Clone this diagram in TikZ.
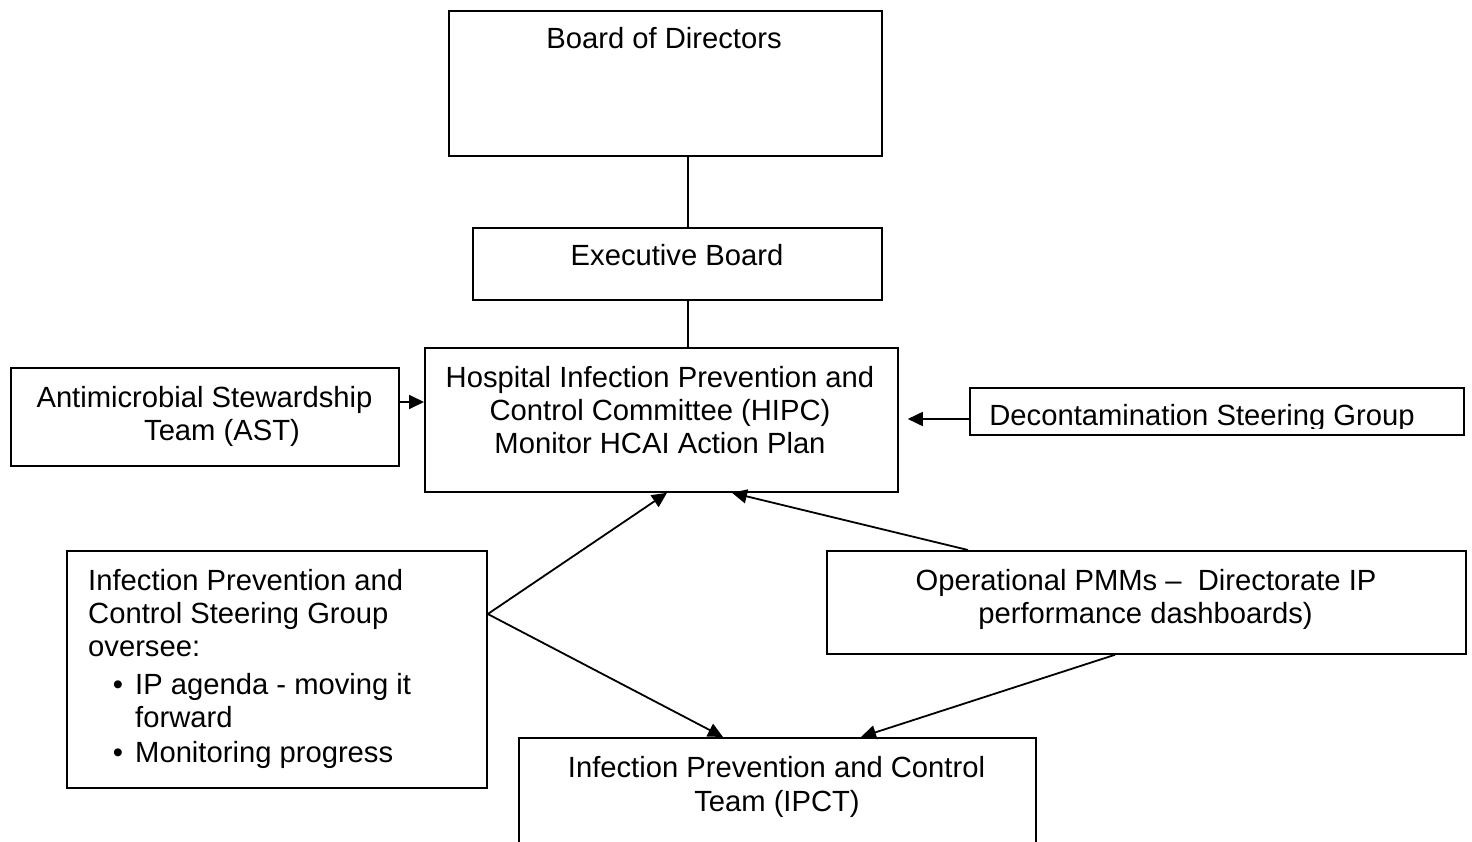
\documentclass[tikz,border=0pt]{standalone}
\usepackage{fontspec}
\setmainfont{Liberation Sans}
\usetikzlibrary{arrows.meta}
\begin{document}
\begin{tikzpicture}[x=1pt,y=-1pt,
  box/.style={draw,line width=1.8pt,inner sep=0pt,anchor=north west},
  txt/.style={inner sep=0pt,anchor=base,font=\fontsize{29.2}{33}\selectfont},
  ltxt/.style={inner sep=0pt,anchor=base west,align=left,font=\fontsize{29.2}{33}\selectfont},
  conn/.style={line width=1.8pt},
  arr/.style={line width=1.8pt,-{Triangle[length=15pt,width=14pt]}}]
\useasboundingbox (0,0) rectangle (1472,842);
% boxes
\node[box,minimum width=433pt,minimum height=145pt] (bod) at (448,10) {};
\node[box,minimum width=409pt,minimum height=72pt] (exec) at (472,227) {};
\node[box,minimum width=473pt,minimum height=144pt] (hipc) at (424,347) {};
\node[box,minimum width=388pt,minimum height=98pt] (ast) at (10,367) {};
\node[box,minimum width=494pt,minimum height=47pt] (decon) at (969,387) {};
\node[box,minimum width=420pt,minimum height=237pt] (ipsg) at (66,550) {};
\node[box,minimum width=639pt,minimum height=103pt] (pmm) at (826,550) {};
\node[box,minimum width=517pt,minimum height=140pt] (ipct) at (518,737) {};
% texts
\node[txt] (bodT) at (664,48.5) {Board of Directors};
\node[txt] (execT) at (677,265.5) {Executive Board};
\node[txt] (hipcT1) at (660,387.5) {Hospital Infection Prevention and};
\node[txt] (hipcT2) at (660,420.5) {Control Committee (HIPC)};
\node[txt] (hipcT3) at (660,453.5) {Monitor HCAI Action Plan};
\node[txt] (astT1) at (204.5,407.5) {Antimicrobial Stewardship};
\node[txt] (astT2) at (222,440.5) {Team (AST)};
\begin{scope}
  \clip (decon.north west) rectangle ([yshift=-41pt]decon.north east);
  \node[txt] (deconT) at (1202,425) {Decontamination Steering Group};
\end{scope}
\node[ltxt] (ipsgT1) at (88,590) {Infection Prevention and};
\node[ltxt] (ipsgT2) at (88,623) {Control Steering Group};
\node[ltxt] (ipsgT3) at (88,656) {oversee:};
\node[txt] (b1) at (118,694) {•};
\node[ltxt] (ipsgT4) at (135,694) {IP agenda - moving it};
\node[ltxt] (ipsgT5) at (135,727) {forward};
\node[txt] (b2) at (118,762) {•};
\node[ltxt] (ipsgT6) at (135,762) {Monitoring progress};
\node[txt] (pmmT1) at (1146,590) {Operational PMMs \textendash\ \ Directorate IP};
\node[txt] (pmmT2) at (1145.5,623) {performance dashboards)};
\node[txt] (ipctT1) at (776.5,777) {Infection Prevention and Control};
\node[txt] (ipctT2) at (777,811) {Team (IPCT)};
% connectors
\draw[conn] ([xshift=240pt]bod.south west) -- ([xshift=216pt]exec.north west);
\draw[conn] ([xshift=216pt]exec.south west) -- ([xshift=264pt]hipc.north west);
\draw[arr] ([yshift=-35pt]ast.north east) -- ([yshift=-55pt]hipc.north west);
\draw[arr] ([yshift=-32pt]decon.north west) -- ([xshift=9pt,yshift=-72pt]hipc.north east);
\draw[arr] ([yshift=-64pt]ipsg.north east) -- ([xshift=243pt]hipc.south west);
\draw[arr] ([yshift=-64pt]ipsg.north east) -- ([xshift=205pt]ipct.north west);
\draw[arr] ([xshift=142pt]pmm.north west) -- ([xshift=308pt]hipc.south west);
\draw[arr] ([xshift=289pt]pmm.south west) -- ([xshift=343pt]ipct.north west);
\end{tikzpicture}
\end{document}
